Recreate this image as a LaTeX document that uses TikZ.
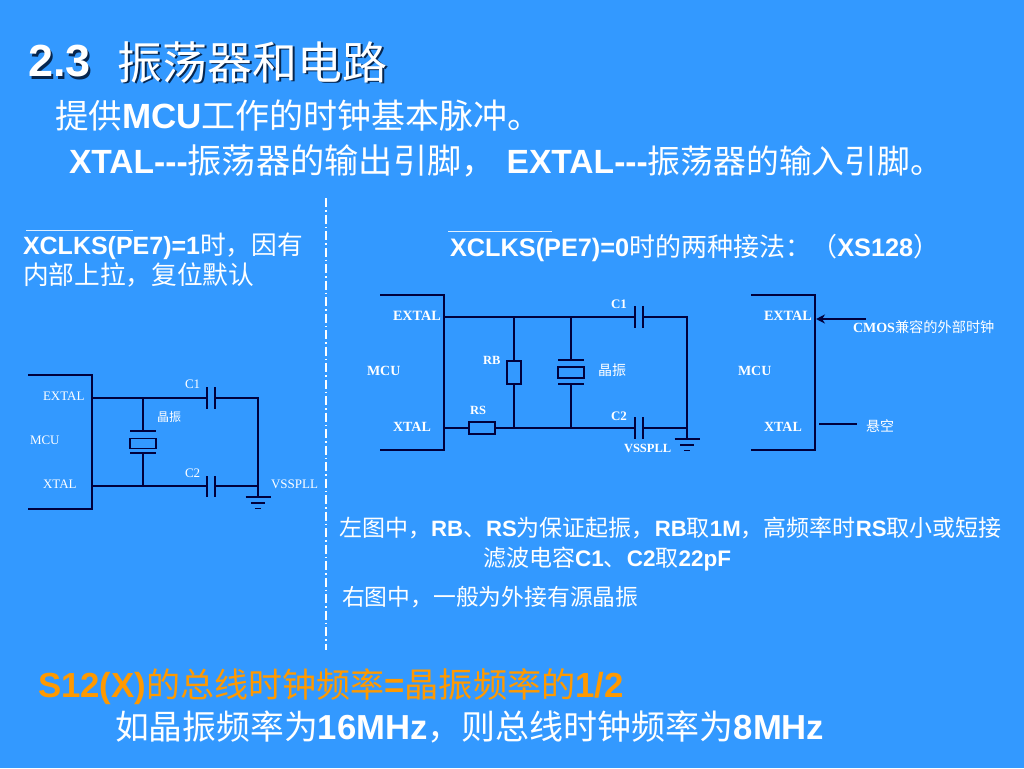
\documentclass[tikz,border=0pt]{standalone}
\usepackage{fontspec}
\setmainfont{Liberation Sans}[Ligatures=NoCommon]
\newfontfamily\cjk{Noto Sans CJK SC}
\newfontfamily\serifl{Liberation Serif}
\usetikzlibrary{arrows.meta}
\definecolor{bgblue}{HTML}{3399FF}
\definecolor{ink}{HTML}{00003C}
\definecolor{hilite}{HTML}{FF9900}
\definecolor{shade}{HTML}{06264F}
\newcommand{\fsz}[1]{\fontsize{#1pt}{#1pt}\selectfont}
\newcommand{\zh}[2]{{\cjk\mdseries\fsz{#1}#2}}
\tikzset{
  x=1pt,y=-1pt,
  txt/.style={anchor=base west,inner sep=0,outer sep=0,text=white,font=\bfseries\fsz{#1}},
  lab/.style={anchor=base west,inner sep=0,outer sep=0,text=white,font=\serifl\fsz{#1}},
  labb/.style={anchor=base west,inner sep=0,outer sep=0,text=white,font=\serifl\bfseries\fsz{#1}},
  wire/.style={draw=ink,line width=1.7pt},
  partbox/.style={draw=ink,line width=1.7pt,fill=bgblue,inner sep=0,outer sep=0,minimum width=#1},
  over/.style={draw=white!85!bgblue,line width=0.7pt},
  sep/.style={draw=white,line width=1.3pt,dash pattern=on 9pt off 3pt on 1.5pt off 3pt},
}
\newcommand{\ground}[3]{%
  \draw[wire] (#1-#3,#2) -- (#1+#3,#2);
  \draw[wire] (#1-#3*0.55,#2+6) -- (#1+#3*0.55,#2+6);
  \draw[wire] (#1-#3*0.25,#2+11.5) -- (#1+#3*0.25,#2+11.5);
}
\begin{document}
\begin{tikzpicture}
\useasboundingbox[fill=bgblue] (0,0) rectangle (1024,768);
% header
\node[txt=45,text=shade] (t1s) at (30,79) {2.3};
\node[txt=45] (t1) at (28,77) {2.3};
\node[txt=45,text=shade] (t2s) at (119,81) {\zh{45}{振荡器和电路}};
\node[txt=45] (t2) at (117,79) {\zh{45}{振荡器和电路}};
\node[txt=35] (l1) at (55,128) {\zh{33.5}{提供}MCU\zh{34}{工作的时钟基本脉冲。}};
\node[txt=33.6] (l2) at (69,173) {XTAL-{}-{}-\zh{34.2}{振荡器的输出引脚，}\hspace{11pt}EXTAL-{}-{}-\zh{32.8}{振荡器的输入引脚。}};
% separator
\coordinate (sa) at (326,198); \coordinate (sb) at (326,650);
\draw[sep] (sa) -- (sb);
% left
\coordinate (oa) at (26,230); \coordinate (ob) at (133,230);
\draw[over] (oa) -- (ob);
\node[txt=25] (x1) at (23,254) {XCLKS(PE7)=1\zh{25.7}{时，因有}};
\node[txt=25] (x2) at (23,284) {\zh{25.7}{内部上拉，复位默认}};
% left circuit
\coordinate (at) at (28,375); \coordinate (atc) at (92,375); \coordinate (abc) at (92,509); \coordinate (ab) at (28,509);
\draw[wire] (at) -- (atc) -- (abc) -- (ab);
\coordinate (ae) at (92,398); \coordinate (ax) at (92,486);
\coordinate (aj1) at (143,398); \coordinate (aj2) at (143,486);
\coordinate (ac1a) at (207,398); \coordinate (ac1b) at (215,398);
\coordinate (ac2a) at (207,486); \coordinate (ac2b) at (215,486);
\coordinate (ar1) at (258,398); \coordinate (ar2) at (258,486); \coordinate (ag) at (258,497);
\draw[wire] (ae) -- (ac1a); \draw[wire] (ax) -- (ac2a);
\draw[wire] (ac1b) -- (ar1) -- (ag); \draw[wire] (ac2b) -- (ar2);
\draw[wire] (207,387) -- (207,409); \draw[wire] (215,387) -- (215,409);
\draw[wire] (207,476) -- (207,497); \draw[wire] (215,476) -- (215,497);
\node[partbox=26pt,minimum height=10pt] (axt) at (143,443.5) {};
\draw[wire] (130,431) -- (156,431); \draw[wire] (130,453) -- (156,453);
\draw[wire] (aj1) -- (143,431); \draw[wire] (143,453) -- (aj2);
\ground{258}{497}{12.5}
\node[lab=13] (a1) at (43,400) {EXTAL};
\node[lab=13] (a2) at (30,444) {MCU};
\node[lab=13] (a3) at (43,488) {XTAL};
\node[lab=13] (a4) at (185,388) {C1};
\node[lab=13] (a5) at (185,477) {C2};
\node[lab=13] (a6) at (271,488) {VSSPLL};
\node[lab=12] (a7) at (157,421) {\zh{12}{晶振}};
% middle
\coordinate (ob2a) at (448,231); \coordinate (ob2b) at (552,231);
\draw[over] (ob2a) -- (ob2b);
\node[txt=25.3] (y1) at (450,256) {XCLKS(PE7)=0\zh{26}{时的两种接法：（}XS128\zh{26}{）}};
\coordinate (bt) at (380,295); \coordinate (btc) at (444,295); \coordinate (bbc) at (444,450); \coordinate (bb) at (380,450);
\draw[wire] (bt) -- (btc) -- (bbc) -- (bb);
\coordinate (be) at (444,317); \coordinate (bx) at (444,428);
\coordinate (bj1) at (514,317); \coordinate (bj2) at (571,317);
\coordinate (bj3) at (514,428); \coordinate (bj4) at (571,428);
\coordinate (bc1a) at (635,317); \coordinate (bc1b) at (643,317);
\coordinate (bc2a) at (635,428); \coordinate (bc2b) at (643,428);
\coordinate (br1) at (687,317); \coordinate (br2) at (687,428); \coordinate (bg) at (687,439);
\node[partbox=26pt,minimum height=12pt] (brs) at (482,428) {};
\node[partbox=14pt,minimum height=23pt] (brb) at (514,372.5) {};
\node[partbox=26pt,minimum height=11pt] (bxt) at (571,372.5) {};
\draw[wire] (be) -- (bc1a); \draw[wire] (bx) -- (brs); \draw[wire] (brs) -- (bc2a);
\draw[wire] (bc1b) -- (br1) -- (bg); \draw[wire] (bc2b) -- (br2);
\draw[wire] (bj1) -- (brb); \draw[wire] (brb) -- (bj3);
\draw[wire] (635,306) -- (635,328); \draw[wire] (643,306) -- (643,328);
\draw[wire] (635,417) -- (635,439); \draw[wire] (643,417) -- (643,439);
\draw[wire] (558,360) -- (584,360); \draw[wire] (558,384) -- (584,384);
\draw[wire] (bj2) -- (571,360); \draw[wire] (571,384) -- (bj4);
\ground{687}{439}{12.5}
\node[labb=14.2] (b1) at (393,320) {EXTAL};
\node[labb=14] (b2) at (367,375) {MCU};
\node[labb=14] (b3) at (393,431) {XTAL};
\node[labb=13] (b4) at (611,308) {C1};
\node[labb=13] (b5) at (611,420) {C2};
\node[labb=12.5] (b6) at (483,364) {RB};
\node[labb=12.5] (b7) at (470,414) {RS};
\node[labb=12.5] (b8) at (624,452) {VSSPLL};
\node[labb=14] (b9) at (598,375) {\zh{14}{晶振}};
% right
\coordinate (ct) at (751,295); \coordinate (ctc) at (815,295); \coordinate (cbc) at (815,450); \coordinate (cb) at (751,450);
\draw[wire] (ct) -- (ctc) -- (cbc) -- (cb);
\coordinate (cclk) at (866,319); \coordinate (cpin) at (816,319);
\draw[wire,-{Stealth[length=9pt,width=9pt]}] (cclk) -- (cpin);
\coordinate (cf1) at (819,424); \coordinate (cf2) at (857,424);
\draw[wire] (cf1) -- (cf2);
\node[labb=14.2] (c1) at (764,320) {EXTAL};
\node[labb=14] (c2) at (738,375) {MCU};
\node[labb=14] (c3) at (764,431) {XTAL};
\node[labb=14] (c4) at (853,332) {CMOS\zh{14.2}{兼容的外部时钟}};
\node[labb=14] (c5) at (866,431) {\zh{14}{悬空}};
% notes
\node[txt=22.2] (n1) at (339,536) {\zh{23}{左图中，}RB\zh{23}{、}RS\zh{23}{为保证起振，}RB\zh{23}{取}1M\zh{23}{，高频率时}RS\zh{23}{取小或短接}};
\node[txt=22.5] (n2) at (483,566) {\zh{23}{滤波电容}C1\zh{23}{、}C2\zh{23}{取}22pF};
\node[txt=23] (n3) at (342,605) {\zh{22.8}{右图中，一般为外接有源晶振}};
% footer
\node[txt=34.8,text=hilite] (f1) at (38,697) {S12(X)\zh{34}{的总线时钟频率}=\zh{34.2}{晶振频率的}1/2};
\node[txt=34.7] (f2) at (115,739.5) {\zh{33.8}{如晶振频率为}16MHz\zh{34}{，则总线时钟频率为}8MHz};
\end{tikzpicture}
\end{document}
